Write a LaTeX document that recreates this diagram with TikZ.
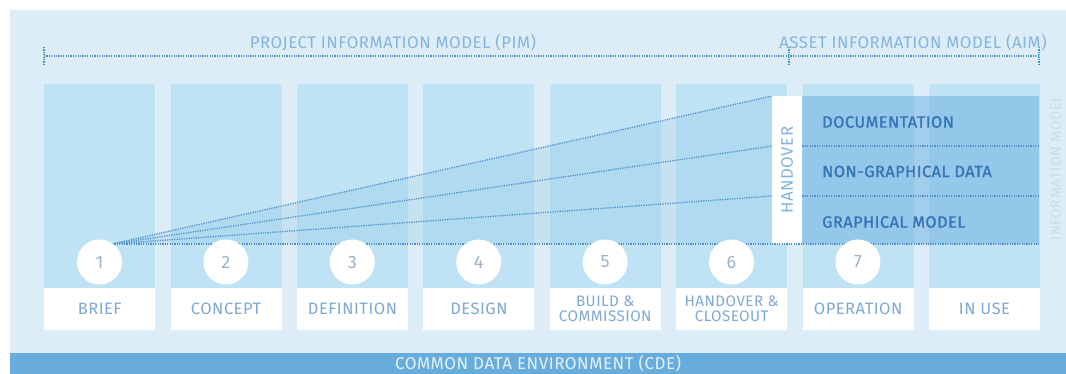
\documentclass[tikz,border=0pt]{standalone}
\usepackage{fontspec}
\setmainfont[LetterSpace=3]{Fira Sans}
\newfontfamily\heavyfont[FakeBold=1.2,LetterSpace=3]{Fira Sans}
\usetikzlibrary{positioning}
\definecolor{bgc}{HTML}{DDEDF8}
\definecolor{colc}{HTML}{BFE3F5}
\definecolor{fanc}{HTML}{8CC3E6}
\definecolor{darkc}{HTML}{5FA8DE}
\definecolor{dotc}{HTML}{4F8FCB}
\definecolor{headc}{HTML}{86B4DD}
\definecolor{labc}{HTML}{7FA9D4}
\definecolor{numc}{HTML}{9DB2C9}
\definecolor{datac}{HTML}{3574B6}
\definecolor{cdec}{HTML}{68ACDC}
\definecolor{cdetc}{HTML}{E4F1FA}
\definecolor{imc}{HTML}{C6DDEF}
\tikzset{
  colbox/.style={rectangle, fill=colc, minimum width=111pt, minimum height=204pt, anchor=north west, inner sep=0pt},
  labbox/.style={rectangle, fill=white, minimum width=111pt, minimum height=42pt, anchor=north west, inner sep=0pt, text=labc, font=\fontsize{16.5}{18}\selectfont, align=center},
  labsmall/.style={font=\fontsize{15.2}{15}\selectfont},
  numcircle/.style={circle, fill=white, minimum size=45pt, inner sep=0pt, text=numc, font=\fontsize{18}{20}\selectfont},
  dotline/.style={draw=dotc, line width=1.3pt, dash pattern=on 1.2pt off 1.2pt},
  headtext/.style={text=headc, font=\fontsize{16.8}{19}\selectfont, inner sep=0pt},
  datatext/.style={text=datac, font=\heavyfont\fontsize{16.3}{19}\selectfont, anchor=west, inner sep=0pt},
}
\begin{document}
\begin{tikzpicture}[x=1pt,y=-1pt]
\useasboundingbox (0,0) rectangle (1066,374);
\fill[white] (0,0) rectangle (1066,374);
\fill[bgc] (10,10) rectangle (1066,374);
% CDE bar
\node[rectangle, fill=cdec, minimum width=1056pt, minimum height=21pt, anchor=north west, inner sep=0pt, text=cdetc, font=\fontsize{17}{19}\selectfont] (cde) at (10,353) {COMMON DATA ENVIRONMENT (CDE)};
% columns
\foreach \i in {0,...,7} {
  \node[colbox] (col\i) at ({44+126.4*\i},84) {};
}
% labels
\node[labbox] (l0) at ({44+126.4*0},288) {BRIEF};
\node[labbox] (l1) at ({44+126.4*1},288) {CONCEPT};
\node[labbox] (l2) at ({44+126.4*2},288) {DEFINITION};
\node[labbox] (l3) at ({44+126.4*3},288) {DESIGN};
\node[labbox, labsmall] (l4) at ({44+126.4*4},288) {BUILD \&\\COMMISSION};
\node[labbox, labsmall] (l5) at ({44+126.4*5},288) {HANDOVER \&\\CLOSEOUT};
\node[labbox] (l6) at ({44+126.4*6},288) {OPERATION};
\node[labbox] (l7) at ({44+126.4*7},288) {IN USE};
% fan
\coordinate (o) at (112,244);
\coordinate (h1) at (772,96);
\coordinate (h2) at (772,146);
\coordinate (h3) at (772,196);
\coordinate (h4) at (772,244);
\coordinate (e4) at (1039,244);
\fill[fanc, opacity=0.28] (o) -- (h1) -- (h4) -- cycle;
% dark data box
\fill[darkc, opacity=0.45] (802,96) rectangle (1039,244);
\coordinate (s2) at (1039,146);
\coordinate (s3) at (1039,196);
% handover box
\node[rectangle, fill=white, minimum width=30pt, minimum height=148pt, anchor=north west, inner sep=0pt] (ho) at (772,96) {};
\node[rotate=90, text=headc, font=\fontsize{16.8}{18}\selectfont] (hot) at (ho.center) {HANDOVER};
% dotted lines
\draw[dotline] (o) -- (h1);
\draw[dotline] (o) -- (h2);
\draw[dotline] (o) -- (h3);
\draw[dotline] (o) -- (e4);
\draw[dotline] (ho.east |- h2) -- (s2);
\draw[dotline] (ho.east |- h3) -- (s3);
% circles
\foreach \i in {0,...,6} {
  \pgfmathtruncatemacro{\n}{\i+1}
  \node[numcircle] (n\i) at ({99.5+126.4*\i},262) {\n};
}
% data texts
\node[datatext] (doc) at (822,122) {DOCUMENTATION};
\node[datatext] (ngd) at (822,171.5) {NON-GRAPHICAL DATA};
\node[datatext] (gm) at (822,222) {GRAPHICAL MODEL};
% top model lines
\coordinate (t0) at (44,56);
\coordinate (t1) at (789,56);
\coordinate (t2) at (1039,56);
\draw[dotline] (t0) -- (t2);
\draw[dotline] (44,47) -- (44,65);
\draw[dotline] (789,47) -- (789,65);
\draw[dotline] (1039,47) -- (1039,65);
\node[headtext] (pim) at (393,43) {PROJECT INFORMATION MODEL (PIM)};
\node[headtext] (aim) at (913,43) {ASSET INFORMATION MODEL (AIM)};
\node[rotate=90, text=imc, font=\fontsize{14.4}{16}\selectfont] (im) at (1056,168) {INFORMATION MODEL};
\end{tikzpicture}
\end{document}
